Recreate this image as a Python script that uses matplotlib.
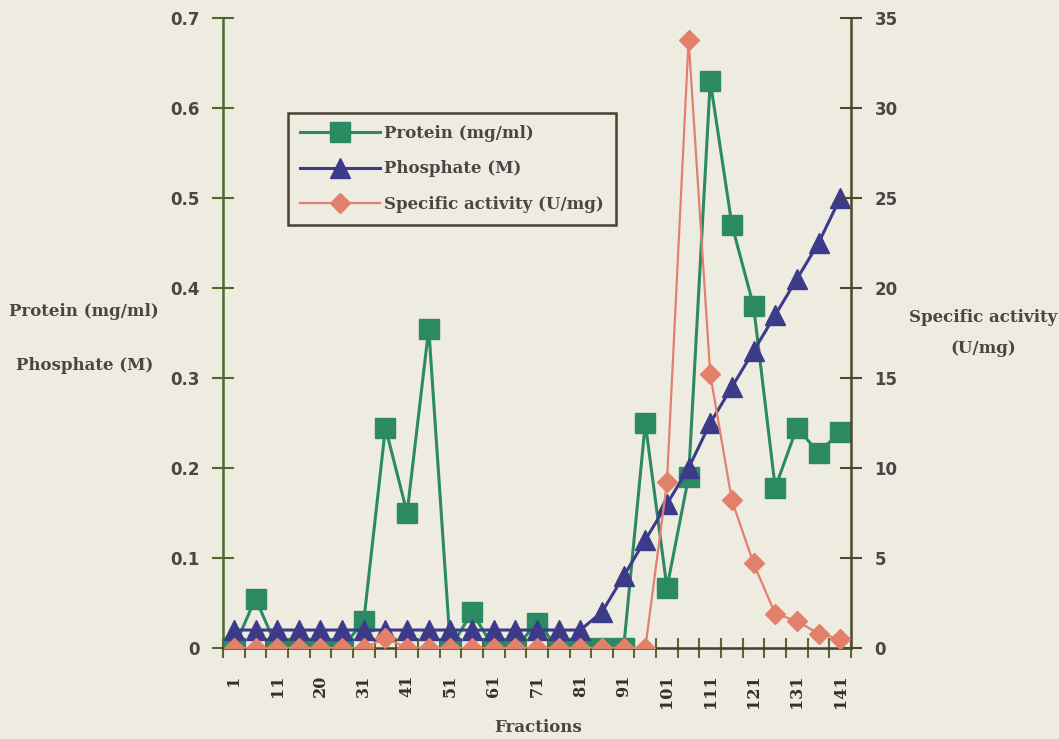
import matplotlib
matplotlib.use("Agg")
import matplotlib.pyplot as plt
from matplotlib.font_manager import FontProperties

# Column fractions (every fifth tube was assayed)
fractions = [1, 6, 11, 16, 20, 26, 31, 36, 41, 46, 51, 56, 61, 66, 71,
             76, 81, 86, 91, 96, 101, 106, 111, 116, 121, 126, 131, 136, 141]

# Protein concentration (mg/ml)
protein = [0, 0.055, 0, 0, 0, 0, 0.03, 0.245, 0.15, 0.355, 0, 0.04, 0, 0,
           0.028, 0, 0, 0, 0, 0.25, 0.067, 0.19, 0.63, 0.47, 0.38, 0.178,
           0.245, 0.217, 0.24]

# Phosphate gradient (M)
phosphate = [0.02, 0.02, 0.02, 0.02, 0.02, 0.02, 0.02, 0.02, 0.02, 0.02,
             0.02, 0.02, 0.02, 0.02, 0.02, 0.02, 0.02, 0.04, 0.08, 0.12,
             0.16, 0.2, 0.25, 0.29, 0.33, 0.37, 0.41, 0.45, 0.5]

# Specific activity (U/mg)
activity = [0, 0, 0, 0, 0, 0, 0, 0.55, 0, 0, 0, 0, 0, 0, 0, 0, 0, 0, 0, 0,
            9.2, 33.8, 15.2, 8.2, 4.7, 1.9, 1.5, 0.8, 0.5]

left_ticks = [0, 0.1, 0.2, 0.3, 0.4, 0.5, 0.6, 0.7]
left_tick_labels = ["0", "0.1", "0.2", "0.3", "0.4", "0.5", "0.6", "0.7"]
right_ticks = [0, 5, 10, 15, 20, 25, 30, 35]

BG = "#eeece1"
GREEN = "#2b8a62"
NAVY = "#3b3b8a"
SALMON = "#e2806c"
TEXT = "#4a4646"

num_font = FontProperties(family="DejaVu Sans", weight="bold", size=12)
serif_font = FontProperties(family="DejaVu Serif", weight="bold", size=12)
xlab_font = FontProperties(family="DejaVu Serif", weight="bold", size=11.5)

fig = plt.figure(figsize=(10.59, 7.39), dpi=100)
fig.patch.set_facecolor(BG)
ax = fig.add_axes([0.2106, 0.1231, 0.593, 0.8525])
ax.set_facecolor(BG)
ax2 = ax.twinx()

x = list(range(len(fractions)))

l1, = ax.plot(x, protein, color=GREEN, lw=2.2, marker="s", ms=15,
              mfc=GREEN, mec=GREEN, zorder=3, label="Protein (mg/ml)")
l2, = ax.plot(x, phosphate, color=NAVY, lw=2.2, marker="^", ms=15,
              mfc=NAVY, mec=NAVY, zorder=4, label="Phosphate (M)")
l3, = ax2.plot(x, activity, color=SALMON, lw=1.6, marker="D", ms=10.5,
               mfc=SALMON, mec=SALMON, zorder=5,
               label="Specific activity (U/mg)")

ax.set_xlim(-0.5, len(fractions) - 0.5)
ax.set_ylim(0, 0.7)
ax2.set_ylim(0, 35)

# spines
for a in (ax, ax2):
    a.spines["top"].set_visible(False)
ax.spines["right"].set_visible(False)
ax2.spines["left"].set_visible(False)
ax2.spines["bottom"].set_visible(False)
ax.spines["left"].set_color("#4d6a2c")
ax.spines["left"].set_linewidth(1.8)
ax2.spines["right"].set_color("#4a4a2c")
ax2.spines["right"].set_linewidth(1.8)
ax.spines["bottom"].set_color("#4a3a30")
ax.spines["bottom"].set_linewidth(1.8)

# y axes
ax.set_yticks(left_ticks)
ax.set_yticklabels(left_tick_labels)
ax.tick_params(axis="y", direction="inout", length=16, width=1.5,
               colors="#4d6a2c", labelcolor=TEXT, pad=8.5)
for t in ax.get_yticklabels():
    t.set_fontproperties(num_font)
ax2.set_yticks(right_ticks)
ax2.set_yticklabels([str(v) for v in right_ticks])
ax2.tick_params(axis="y", direction="inout", length=16, width=1.5,
                colors="#4a4a2c", labelcolor=TEXT, pad=9)
for t in ax2.get_yticklabels():
    t.set_fontproperties(num_font)

# x axis: tick marks between categories, labels on every other fraction
ax.set_xticks([i - 0.5 for i in range(len(fractions) + 1)])
ax.set_xticklabels([])
ax.tick_params(axis="x", which="major", direction="inout", length=14,
               width=1.5, colors="#5a6a2a")
ax.set_xticks(x[::2], minor=True)
ax.set_xticklabels([str(f) for f in fractions[::2]], minor=True,
                   rotation=90)
ax.tick_params(axis="x", which="minor", length=0, pad=19, labelcolor="#333030")
for t in ax.get_xticklabels(minor=True):
    t.set_fontproperties(xlab_font)

# axis titles
fig.text(84 / 1059, 1 - 312 / 739, "Protein (mg/ml)", ha="center",
         va="center", fontproperties=serif_font, color=TEXT)
fig.text(85 / 1059, 1 - 366 / 739, "Phosphate (M)", ha="center",
         va="center", fontproperties=serif_font, color=TEXT)
fig.text(983 / 1059, 1 - 318 / 739, "Specific activity", ha="center",
         va="center", fontproperties=serif_font, color=TEXT)
fig.text(983 / 1059, 1 - 348 / 739, "(U/mg)", ha="center",
         va="center", fontproperties=serif_font, color=TEXT)
fig.text(538 / 1059, 1 - 728 / 739, "Fractions", ha="center",
         va="center", fontproperties=serif_font, color=TEXT)

leg = fig.legend([l1, l2, l3], [l1.get_label(), l2.get_label(), l3.get_label()],
                 loc="upper left", bbox_to_anchor=(288 / 1059, 1 - 113 / 739),
                 prop=serif_font, frameon=True, fancybox=False,
                 facecolor=BG, edgecolor="#4a4030", framealpha=1,
                 handlelength=4.8, handletextpad=0.25, labelspacing=1.1,
                 borderpad=0.72, borderaxespad=0)
leg.get_frame().set_linewidth(1.8)
for t in leg.get_texts():
    t.set_color(TEXT)

fig.savefig("out.png", dpi=100, facecolor=BG)
